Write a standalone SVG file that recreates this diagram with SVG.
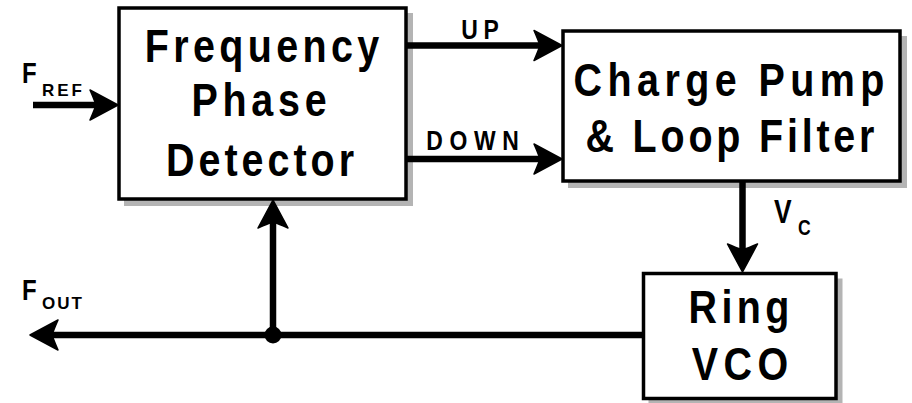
<svg xmlns="http://www.w3.org/2000/svg" width="912" height="403" viewBox="0 0 912 403">
<style>
  .box { fill: #ffffff; stroke: #000000; stroke-width: 3.5; }
  .shadow { fill: #b4b4b4; }
  .wire { fill: none; stroke: #000000; stroke-width: 6.5; }
  .main { font-family: "Liberation Sans", Arial, sans-serif; font-weight: bold; font-size: 47px; fill: #000; }
  .lbl { font-family: "Liberation Sans", Arial, sans-serif; font-weight: bold; fill: #000; }
</style>
<defs>
  <marker id="ah" markerUnits="userSpaceOnUse" viewBox="-30 -17 32 34" refX="-22" refY="0" markerWidth="32" markerHeight="34" orient="auto">
    <path d="M0,0 L-28,-15 Q-24,-6 -22,0 Q-24,6 -28,15 Z" fill="#000" stroke="#000" stroke-width="1.5" stroke-linejoin="round"/>
  </marker>
</defs>
<rect width="912" height="403" fill="#ffffff"/>

<g id="node-fpd">
  <rect class="shadow" x="124" y="13" width="289" height="193"/>
  <rect class="box" x="119" y="8" width="287" height="191"/>
  <text class="main" transform="translate(262,62) scale(0.84,1)" text-anchor="middle" textLength="279" lengthAdjust="spacing">Frequency</text>
  <text class="main" transform="translate(259,116) scale(0.84,1)" text-anchor="middle" textLength="161" lengthAdjust="spacing">Phase</text>
  <text class="main" transform="translate(260,176) scale(0.84,1)" text-anchor="middle" textLength="224" lengthAdjust="spacing">Detector</text>
</g>

<g id="node-cp">
  <rect class="shadow" x="568" y="36" width="339" height="152"/>
  <rect class="box" x="563" y="31" width="337" height="150"/>
  <text class="main" transform="translate(729,96) scale(0.84,1)" text-anchor="middle" textLength="370" lengthAdjust="spacing">Charge Pump</text>
  <text class="main" transform="translate(730,152) scale(0.84,1)" text-anchor="middle" textLength="344" lengthAdjust="spacing">&amp; Loop Filter</text>
</g>

<g id="node-vco">
  <rect class="shadow" x="648.5" y="278.5" width="194" height="127"/>
  <rect class="box" x="643.5" y="273.5" width="192.5" height="125"/>
  <text class="main" transform="translate(739,323) scale(0.84,1)" text-anchor="middle" textLength="120" lengthAdjust="spacing">Ring</text>
  <text class="main" transform="translate(740,380) scale(0.84,1)" text-anchor="middle" textLength="115" lengthAdjust="spacing">VCO</text>
</g>

<g id="connectors">
  <line class="wire" x1="33" y1="105" x2="96" y2="105" marker-end="url(#ah)"/>
  <line class="wire" x1="406" y1="45.5" x2="540" y2="45.5" marker-end="url(#ah)"/>
  <line class="wire" x1="406" y1="159" x2="540" y2="159" marker-end="url(#ah)"/>
  <line class="wire" x1="742.5" y1="181" x2="742.5" y2="250" marker-end="url(#ah)"/>
  <line class="wire" x1="643.5" y1="335" x2="52" y2="335" marker-end="url(#ah)"/>
  <line class="wire" x1="273" y1="335" x2="273" y2="222" marker-end="url(#ah)"/>
  <circle cx="273" cy="335" r="8.5" fill="#000"/>
</g>

<g id="labels">
  <text class="lbl" font-size="30" transform="translate(22,83) scale(0.8,1)">F</text>
  <text class="lbl" font-size="17" x="42" y="96" textLength="40" lengthAdjust="spacing">REF</text>
  <text class="lbl" font-size="30" transform="translate(22,300) scale(0.8,1)">F</text>
  <text class="lbl" font-size="17" x="42" y="309" textLength="40" lengthAdjust="spacing">OUT</text>
  <text class="lbl" font-size="27" transform="translate(480,39) scale(0.85,1)" text-anchor="middle" textLength="44" lengthAdjust="spacing">UP</text>
  <text class="lbl" font-size="27" transform="translate(472.5,150) scale(0.85,1)" text-anchor="middle" textLength="109" lengthAdjust="spacing">DOWN</text>
  <text class="lbl" font-size="33" transform="translate(774,223) scale(0.8,1)">V</text>
  <text class="lbl" font-size="22" transform="translate(798,235) scale(0.8,1)">C</text>
</g>
</svg>
